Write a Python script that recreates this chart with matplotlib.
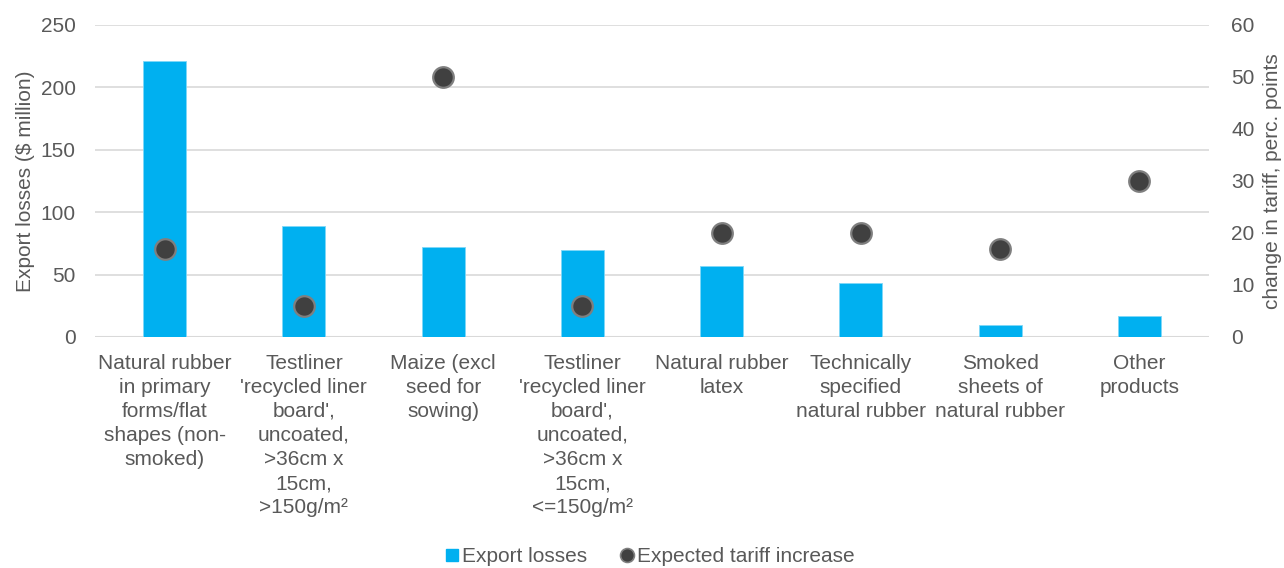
import matplotlib
matplotlib.use("Agg")
import matplotlib.pyplot as plt
from matplotlib.lines import Line2D

plt.rcParams['font.family'] = ['Liberation Sans', 'DejaVu Sans']

categories = [
    "Natural rubber\nin primary\nforms/flat\nshapes (non-\nsmoked)",
    "Testliner\n'recycled liner\nboard',\nuncoated,\n>36cm x\n15cm,\n>150g/m²",
    "Maize (excl\nseed for\nsowing)",
    "Testliner\n'recycled liner\nboard',\nuncoated,\n>36cm x\n15cm,\n<=150g/m²",
    "Natural rubber\nlatex",
    "Technically\nspecified\nnatural rubber",
    "Smoked\nsheets of\nnatural rubber",
    "Other\nproducts",
]
export_losses = [221, 89, 72, 70, 57, 43, 9.5, 17]
tariff_increase = [17, 6, 50, 6, 20, 20, 17, 30]

left_ticks = [0, 50, 100, 150, 200, 250]
right_ticks = [0, 10, 20, 30, 40, 50, 60]

TXT = '#595959'
BAR = '#00B0F0'
GRID = '#D9D9D9'
FS = 15

fig = plt.figure(figsize=(12.84, 5.68), dpi=100)
ax = fig.add_axes([95/1284, 1-337/568, (1209-95)/1284, (337-25)/568])
ax2 = ax.twinx()

x = list(range(len(categories)))
ax.bar(x, export_losses, width=0.31, color=BAR, edgecolor='#7FD7F7', linewidth=0.6, zorder=2)
ax.set_xlim(-0.5, len(categories)-0.5)
ax.set_ylim(0, 250)
ax.set_yticks(left_ticks)
ax.yaxis.grid(True, color=GRID, linewidth=1.2, zorder=0)
ax.set_axisbelow(True)
for s in ax.spines.values():
    s.set_visible(False)
for s in ax2.spines.values():
    s.set_visible(False)
ax.axhline(0, color=GRID, linewidth=1.5, zorder=1)

ax.set_xticks(x)
ax.set_xticklabels(categories, fontsize=FS, color=TXT, linespacing=1.34, va='top')
ax.tick_params(axis='x', length=0, pad=12)
ax.tick_params(axis='y', length=0, labelsize=FS, labelcolor=TXT, pad=14)
ax.set_ylabel("Export losses ($ million)", fontsize=FS, color=TXT, labelpad=4)

ax2.scatter(x, tariff_increase, s=220, color='#404040', edgecolors='#7F7F7F', linewidths=1.6, zorder=3)
ax2.set_ylim(0, 60)
ax2.set_yticks(right_ticks)
ax2.tick_params(axis='y', length=0, labelsize=FS, labelcolor=TXT, pad=16)
ax2.set_ylabel("change in tariff, perc. points", fontsize=FS, color=TXT, labelpad=6)

handles = [
    Line2D([], [], marker='s', linestyle='none', markersize=9, color=BAR, markeredgecolor=BAR),
    Line2D([], [], marker='o', linestyle='none', markersize=10, color='#404040', markeredgecolor='#7F7F7F', markeredgewidth=1.2),
]
fig.legend(handles, ["Export losses", "Expected tariff increase"], loc='center',
           bbox_to_anchor=(0.5055, 1-557/568), ncol=2, frameon=False, fontsize=FS,
           labelcolor=TXT, handletextpad=0.1, columnspacing=1.5, handlelength=0.8)

fig.savefig("out.png", dpi=100)
